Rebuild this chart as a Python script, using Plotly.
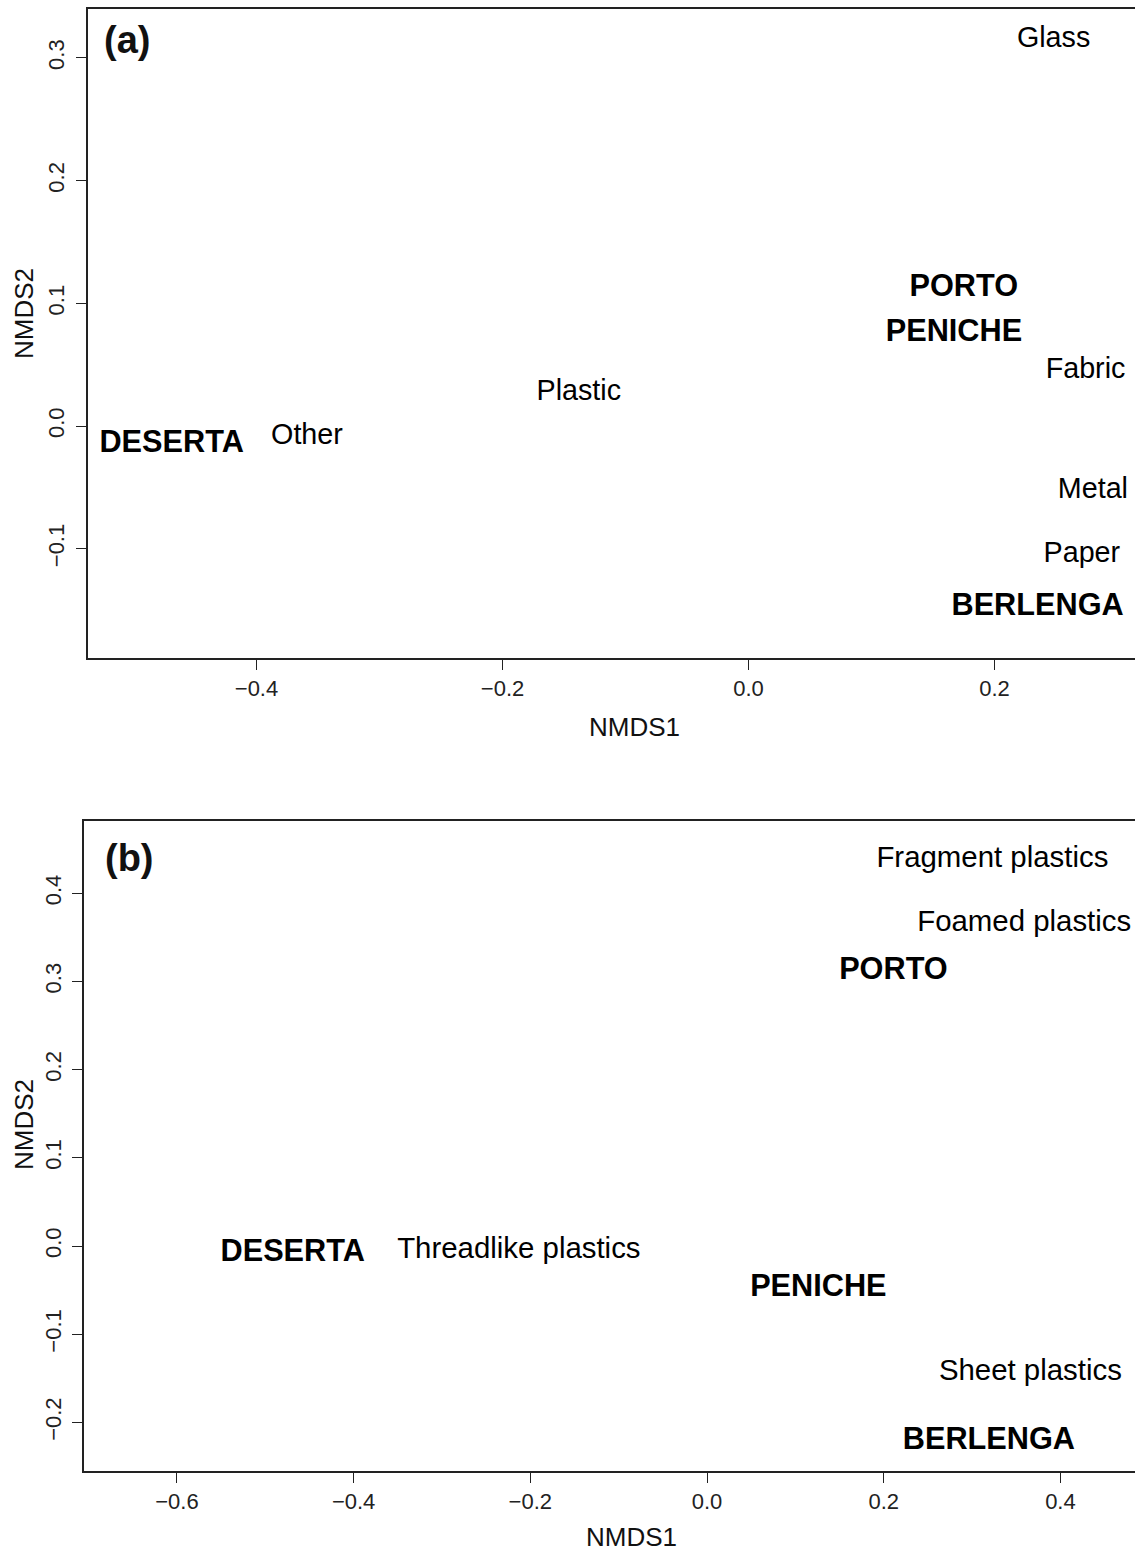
import plotly.graph_objects as go

W, H = 1135, 1551

# ---------------- data: panel (a) ----------------
a_site_names = ["PORTO", "PENICHE", "BERLENGA", "DESERTA"]
a_site_x = [0.175, 0.167, 0.235, -0.469]
a_site_y = [0.112, 0.076, -0.148, -0.015]
a_type_names = ["Glass", "Fabric", "Metal", "Paper", "Plastic", "Other"]
a_type_x = [0.248, 0.274, 0.280, 0.271, -0.138, -0.359]
a_type_y = [0.315, 0.045, -0.053, -0.105, 0.027, -0.009]
a_xticks = [-0.4, -0.2, 0.0, 0.2]
a_yticks = [-0.1, 0.0, 0.1, 0.2, 0.3]

# ---------------- data: panel (b) ----------------
b_site_names = ["PORTO", "PENICHE", "BERLENGA", "DESERTA"]
b_site_x = [0.211, 0.126, 0.319, -0.469]
b_site_y = [0.312, -0.048, -0.221, -0.008]
b_type_names = ["Fragment plastics", "Foamed plastics", "Sheet plastics", "Threadlike plastics"]
b_type_x = [0.323, 0.359, 0.366, -0.213]
b_type_y = [0.438, 0.366, -0.144, -0.005]
b_xticks = [-0.6, -0.4, -0.2, 0.0, 0.2, 0.4]
b_yticks = [-0.2, -0.1, 0.0, 0.1, 0.2, 0.3, 0.4]

FONT = "Liberation Sans, Arial, Helvetica, sans-serif"
BOLD = 30.7

fig = go.Figure()

def add_panel(sx, sy, sn, tx, ty, tn, xa, ya, reg):
    fig.add_trace(go.Scatter(x=tx, y=ty, text=tn, mode="text", textposition="middle center",
                             textfont=dict(family=FONT, size=reg, color="black"),
                             xaxis=xa, yaxis=ya, showlegend=False, hoverinfo="skip"))
    fig.add_trace(go.Scatter(x=sx, y=sy, text=sn, mode="text", textposition="middle center",
                             textfont=dict(family=FONT, size=BOLD, color="black", weight="bold"),
                             xaxis=xa, yaxis=ya, showlegend=False, hoverinfo="skip"))

add_panel(a_site_x, a_site_y, a_site_names, a_type_x, a_type_y, a_type_names, "x", "y", 28.7)
add_panel(b_site_x, b_site_y, b_site_names, b_type_x, b_type_y, b_type_names, "x2", "y2", 29.4)

axis_common = dict(showgrid=False, zeroline=False, showline=True, linecolor="#222",
                   linewidth=1.6, ticks="outside", ticklen=10, tickwidth=1.3, tickcolor="#222",
                   tickfont=dict(family=FONT, size=22, color="#222"), tickformat=".1f")

def px_x(p):
    return p / W

def px_y(p):
    return 1 - p / H

fig.update_layout(
    width=W, height=H, autosize=False,
    margin=dict(l=0, r=0, t=0, b=0),
    paper_bgcolor="white", plot_bgcolor="white",
    xaxis=dict(domain=[px_x(88), 1.0], range=[-0.537, 0.3142], anchor="y",
               tickvals=a_xticks, mirror=True, ticklabelstandoff=0, **axis_common),
    yaxis=dict(domain=[px_y(658), px_y(9)], range=[-0.189, 0.3399], anchor="x",
               tickvals=a_yticks, tickangle=-90, ticklabelstandoff=3, **axis_common),
    xaxis2=dict(domain=[px_x(84), 1.0], range=[-0.7052, 0.4844], anchor="y2",
                tickvals=b_xticks, mirror=True, ticklabelstandoff=0, **axis_common),
    yaxis2=dict(domain=[px_y(1471), px_y(821)], range=[-0.2551, 0.4819], anchor="x2",
                tickvals=b_yticks, tickangle=-90, ticklabelstandoff=2, **axis_common),
)

anns = [
    dict(text="<b>(a)</b>", x=px_x(127), y=px_y(40), size=38, angle=0),
    dict(text="<b>(b)</b>", x=px_x(129), y=px_y(858), size=38, angle=0),
    dict(text="NMDS1", x=px_x(634), y=px_y(727), size=26, angle=0),
    dict(text="NMDS1", x=px_x(631), y=px_y(1537), size=26, angle=0),
    dict(text="NMDS2", x=px_x(24), y=px_y(314), size=26, angle=-90),
    dict(text="NMDS2", x=px_x(24), y=px_y(1125), size=26, angle=-90),
]
for a in anns:
    fig.add_annotation(text=a["text"], x=a["x"], y=a["y"], xref="paper", yref="paper",
                       xanchor="center", yanchor="middle", showarrow=False, textangle=a["angle"],
                       font=dict(family=FONT, size=a["size"], color="#111"))

fig.write_html("out.html")
